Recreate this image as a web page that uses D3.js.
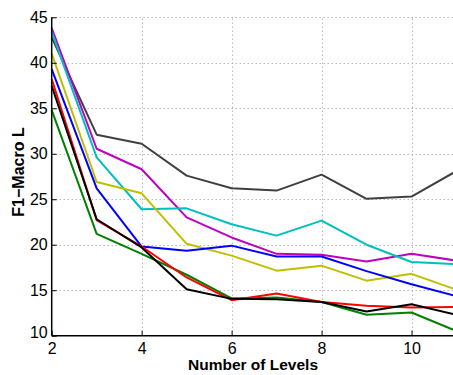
<!DOCTYPE html>
<html>
<head>
<meta charset="utf-8">
<script src="https://cdn.jsdelivr.net/npm/d3@7/dist/d3.min.js"></script>
<style>
  html, body { margin: 0; padding: 0; background: #fff; }
  svg { display: block; }
  text { font-family: "Liberation Sans", Arial, Helvetica, sans-serif; }
</style>
</head>
<body>
<svg id="chart" width="453" height="375"></svg>
<script>
// Number of levels on the x axis
const levels = [2, 3, 4, 5, 6, 7, 8, 9, 10, 11];

// F1-Macro L for each configuration, one value per level
const seriesGray    = [42.8, 32.1, 31.1, 27.6, 26.2, 25.95, 27.7, 25.05, 25.3, 28.1];
const seriesMagenta = [43.8, 30.55, 28.3, 23.0, 20.8, 19.0, 18.9, 18.15, 19.0, 18.25];
const seriesCyan    = [43.4, 29.6, 23.9, 24.0, 22.25, 21.0, 22.65, 20.0, 18.1, 17.85];
const seriesYellow  = [41.0, 26.9, 25.65, 20.1, 18.8, 17.15, 17.7, 16.05, 16.8, 15.05];
const seriesBlue    = [39.3, 26.2, 19.8, 19.35, 19.9, 18.7, 18.7, 17.1, 15.65, 14.35];
const seriesGreen   = [34.8, 21.2, 19.0, 16.7, 14.1, 14.2, 13.7, 12.3, 12.55, 10.5];
const seriesRed     = [38.2, 22.7, 19.8, 16.4, 13.9, 14.65, 13.7, 13.3, 13.1, 13.15];
const seriesBlack   = [37.45, 22.8, 19.7, 15.1, 14.05, 14.0, 13.7, 12.65, 13.45, 12.3];

const xTicks = [2, 4, 6, 8, 10];
const yTicks = [10, 15, 20, 25, 30, 35, 40, 45];

const series = [
  { values: seriesGray,    color: "#404040" },
  { values: seriesMagenta, color: "#bf00bf" },
  { values: seriesCyan,    color: "#00bfbf" },
  { values: seriesYellow,  color: "#bfbf00" },
  { values: seriesBlue,    color: "#0000ff" },
  { values: seriesGreen,   color: "#008000" },
  { values: seriesRed,     color: "#ff0000" },
  { values: seriesBlack,   color: "#000000" }
];

const svg = d3.select("#chart");
const plotLeft = 51.7, plotRight = 456.5, plotTop = 17.3, plotBottom = 335.7;

const x = d3.scaleLinear().domain([2, 11]).range([plotLeft, plotRight]);
const y = d3.scaleLinear().domain([10, 45]).range([plotBottom, plotTop]);

// dotted grid
const grid = svg.append("g").attr("stroke", "#999").attr("stroke-width", 1)
  .attr("stroke-dasharray", "1,3");
grid.selectAll("line.gx").data(xTicks.filter(d => d !== 2)).join("line")
  .attr("class", "gx")
  .attr("x1", d => Math.round(x(d)) + 0.5).attr("x2", d => Math.round(x(d)) + 0.5)
  .attr("y1", plotBottom).attr("y2", plotTop);
grid.selectAll("line.gy").data(yTicks.filter(d => d !== 10)).join("line")
  .attr("class", "gy")
  .attr("y1", d => Math.round(y(d)) + 0.5).attr("y2", d => Math.round(y(d)) + 0.5)
  .attr("x1", plotLeft).attr("x2", 453);

// data lines
const line = d3.line().x((d, i) => x(levels[i])).y(d => y(d));
const plot = svg.append("g");
plot.selectAll("path").data(series).join("path")
  .attr("d", s => line(s.values))
  .attr("fill", "none")
  .attr("stroke", s => s.color)
  .attr("stroke-width", 2)
  .attr("stroke-linejoin", "round");

// axes with inward ticks
const xAxis = d3.axisBottom(x).tickValues(xTicks).tickSize(-5).tickPadding(7).tickFormat(d3.format("d"));
const yAxis = d3.axisLeft(y).tickValues(yTicks).tickSize(-5).tickPadding(4).tickFormat(d3.format("d"));

const gx = svg.append("g").attr("transform", `translate(0,${plotBottom})`).call(xAxis);
const gy = svg.append("g").attr("transform", `translate(${plotLeft},0)`).call(yAxis);

[gx, gy].forEach(g => {
  g.select(".domain").attr("stroke", "#000").attr("stroke-width", 1.5);
  g.selectAll(".tick line").attr("stroke", "#000").attr("stroke-width", 1);
  g.selectAll(".tick text").attr("fill", "#000").style("font-size", "16px")
    .style("font-family", "'Liberation Sans', Arial, sans-serif");
});
gx.select(".domain").attr("d", `M${plotLeft},0H453`);
gy.select(".domain").attr("d", `M0,${plotBottom}V${plotTop}`);
// the lowest y label sits a little above the corner
gy.selectAll(".tick").filter(d => d === 10).select("text").attr("dy", "0.1em");

svg.append("text")
  .attr("x", 253).attr("y", 370)
  .attr("text-anchor", "middle")
  .style("font-size", "15.5px").style("font-weight", "bold")
  .text("Number of Levels");

svg.append("text")
  .attr("transform", "translate(24,172) rotate(-90)")
  .attr("text-anchor", "middle")
  .style("font-size", "16px").style("font-weight", "bold")
  .text("F1\u2212Macro L");
</script>
</body>
</html>
